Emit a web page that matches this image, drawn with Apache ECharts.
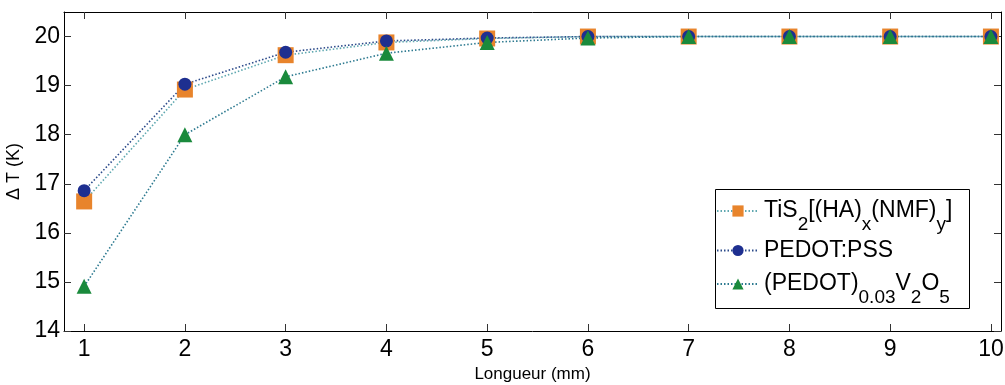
<!DOCTYPE html>
<html><head><meta charset="utf-8">
<script src="https://cdn.jsdelivr.net/npm/echarts@6/dist/echarts.min.js"></script>
<style>html,body{margin:0;padding:0;background:#fff}#c{width:1005px;height:385px}</style>
</head><body><div id="c"></div>
<script>
const lengths = [1,2,3,4,5,6,7,8,9,10];
const tis2 = [16.64,18.92,19.62,19.88,19.96,20.0,20.0,20.0,20.0,20.0];
const pedotPss = [16.86,19.03,19.68,19.91,19.97,20.0,20.0,20.0,20.0,20.0];
const pedotV2o5 = [14.91,18.0,19.18,19.66,19.88,19.97,20.0,20.0,20.0,20.0];
const yTicks = [14,15,16,17,18,19,20];
const seriesNames = ['TiS2[(HA)x(NMF)y]','PEDOT:PSS','(PEDOT)0.03V2O5'];
const richNames = {
  'TiS2[(HA)x(NMF)y]':'{n|TiS}{s|2}{n|[(HA)}{s|x}{n|(NMF)}{s|y}{n|]}',
  'PEDOT:PSS':'{n|PEDOT:PSS}',
  '(PEDOT)0.03V2O5':'{n|(PEDOT)}{s|0.03}{n|V}{s|2}{n|O}{s|5}'
};
const FONT = 'Liberation Sans, Arial, sans-serif';
const SUBPAD = 27;
const chart = echarts.init(document.getElementById('c'));
function mk(name, data, symbol, size, color, lineColor){
  return {name, type:'line', data: lengths.map((x,i)=>[x,data[i]]), symbol, symbolSize:size,
    itemStyle:{color, borderColor:color, borderWidth:0}, lineStyle:{color:lineColor, width:1.6, type:[1.5,2]},
    emphasis:{disabled:true}, z:2};
}
const tick = vals => ({show:true,inside:true,length:7,customValues:vals,lineStyle:{color:'#333'}});
const line = {show:true,lineStyle:{color:'#000',width:1}};
const legendTops = [188, 239, 261];
const legends = seriesNames.map((nm,i)=>({
  orient:'vertical',left:716,top:legendTops[i],itemWidth:42,itemHeight:14,padding:0,z:10,
  data:[nm], formatter:n=>richNames[n],
  textStyle:{fontFamily:FONT,color:'#000',rich:{
    n:{fontFamily:FONT,fontSize:23,color:'#000',lineHeight:24,verticalAlign:'middle'},
    s:{fontFamily:FONT,fontSize:19,color:'#000',lineHeight:20,padding:[SUBPAD,0,0,0]}
  }}
}));
chart.setOption({
  animation:false,
  grid:{left:64,top:12,right:4,bottom:54,outerBoundsMode:'none'},
  graphic:[{type:'rect',z:9,shape:{x:715.5,y:189.5,width:254,height:119},style:{fill:'#fff',stroke:'#000',lineWidth:1}}],
  xAxis:[
    {type:'value',min:0.8,max:10.1,name:'Longueur (mm)',nameLocation:'middle',nameGap:33,
      nameTextStyle:{fontFamily:FONT,fontSize:17,color:'#000'},
      axisLine:line, splitLine:{show:false},
      axisLabel:{fontFamily:FONT,fontSize:23,color:'#000',margin:7,customValues:lengths},
      axisTick:tick(lengths)},
    {type:'value',position:'top',min:0.8,max:10.1,axisLine:line,axisLabel:{show:false},
      axisTick:tick(lengths),splitLine:{show:false}}
  ],
  yAxis:[
    {type:'value',min:14,max:20.5,name:'Δ T (K)',nameLocation:'middle',nameGap:34,nameRotate:90,
      nameTextStyle:{fontFamily:FONT,fontSize:18,color:'#000'},
      axisLine:line, splitLine:{show:false},
      axisLabel:{fontFamily:FONT,fontSize:23,color:'#000',margin:4,customValues:yTicks},
      axisTick:tick(yTicks)},
    {type:'value',position:'right',min:14,max:20.5,axisLine:line,axisLabel:{show:false},
      axisTick:tick(yTicks),splitLine:{show:false}}
  ],
  legend:legends,
  series:[
    mk(seriesNames[0], tis2, 'rect', 16, '#e8842c', '#5fa8b0'),
    mk(seriesNames[1], pedotPss, 'circle', 13, '#1e2f90', '#2b4a8a'),
    mk(seriesNames[2], pedotV2o5, 'triangle', 15, '#1a8a3c', '#2d7a90')
  ]
});
</script></body></html>
